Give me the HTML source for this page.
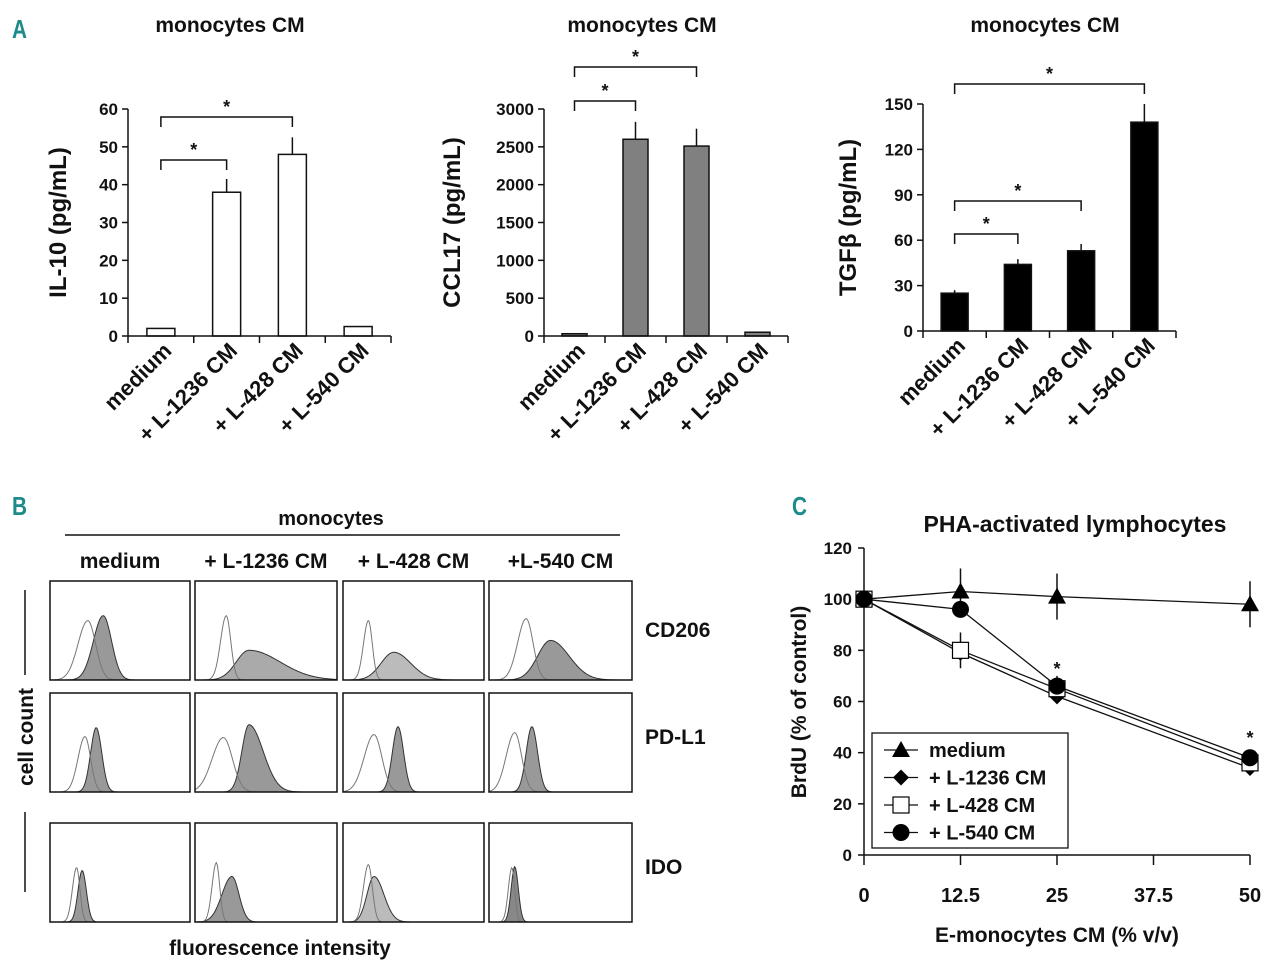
<!DOCTYPE html>
<html><head><meta charset="utf-8"><style>
body{margin:0;background:#fff;}
svg text{font-family:"Liberation Sans",sans-serif;font-weight:bold;fill:#111;}
</style></head><body>
<svg id="fig" width="1280" height="968" viewBox="0 0 1280 968" xmlns="http://www.w3.org/2000/svg">
<g id="root"></g>
</svg>
<script>
// ---- Panel A data ----
const catsA = ["medium","+ L-1236 CM","+ L-428 CM","+ L-540 CM"];
const il10Vals = [2, 38, 48, 2.5];
const il10Err = [0, 3.5, 4.5, 0];
const il10Ticks = [0,10,20,30,40,50,60];
const ccl17Vals = [30, 2600, 2510, 50];
const ccl17Err = [0, 230, 230, 0];
const ccl17Ticks = [0,500,1000,1500,2000,2500,3000];
const tgfVals = [25, 44, 53, 138];
const tgfErr = [2, 3.5, 4.5, 12];
const tgfTicks = [0,30,60,90,120,150];
// ---- Panel C data ----
const xC = [0, 12.5, 25, 50];
const xTicksC = [0, 12.5, 25, 37.5, 50];
const yTicksC = [0,20,40,60,80,100,120];
const medVals = [100, 103, 101, 98];
const medErr = [0, 9, 9, 9];
const l1236Vals = [100, 79, 62, 34];
const l428Vals = [100, 80, 65, 36];
const l428Err = [0, 7, 5, 3];
const l540Vals = [100, 96, 66, 38];

const NS="http://www.w3.org/2000/svg";
const root=document.getElementById('root');
function el(tag,attrs,parent,text){const e=document.createElementNS(NS,tag);for(const k in attrs)e.setAttribute(k,attrs[k]);if(text!==undefined)e.textContent=text;(parent||root).appendChild(e);return e;}

function barChart(o){
  const g=el('g',{});
  
  
  const y=v=>o.y0-(v/o.max)*(o.y0-o.yTop);
  const n=o.vals.length, step=(o.xEnd-o.ax)/n;
  const cx=i=>o.ax+step*(i+0.5);
  const t=el('text',{x:o.titleX,y:o.titleY,'text-anchor':'middle','font-size':21},g,'monocytes CM');
  
  o.vals.forEach((v,i)=>{
    if(o.err[i]>0){const e=el('line',{x1:cx(i),x2:cx(i),y1:y(v),y2:y(v+o.err[i]),stroke:'#111','stroke-width':1.5},g);
      }
    const r=el('rect',{x:cx(i)-o.bw/2,y:y(v),width:o.bw,height:o.y0-y(v),fill:o.fill,stroke:'#111','stroke-width':1.5},g);
    
  });
  const ya=el('line',{x1:o.ax,x2:o.ax,y1:o.yTop,y2:o.y0,stroke:'#111','stroke-width':1.5},g);
  
  o.ticks.forEach(tv=>{
    el('line',{x1:o.ax-6,x2:o.ax,y1:y(tv),y2:y(tv),stroke:'#111','stroke-width':1.5},g);
    const tl=el('text',{x:o.ax-10,y:y(tv)+6,'text-anchor':'end','font-size':17},g,String(tv));
    
  });
  const xa=el('line',{x1:o.ax,x2:o.xEnd,y1:o.y0,y2:o.y0,stroke:'#111','stroke-width':1.5},g);
  
  for(let i=0;i<=n;i++)el('line',{x1:o.ax+step*i,x2:o.ax+step*i,y1:o.y0,y2:o.y0+7,stroke:'#111','stroke-width':1.5},g);
  catsA.forEach((c,i)=>{
    const ax=cx(i)+12, ay=o.y0+16;
    const tl=el('text',{x:ax,y:ay,'text-anchor':'end','font-size':22,transform:`rotate(-45 ${ax} ${ay})`},g,c);
    
  });
  const yl=el('text',{x:o.ylx,y:(o.y0+o.yTop)/2,'text-anchor':'middle','font-size':24,transform:`rotate(-90 ${o.ylx} ${(o.y0+o.yTop)/2})`},g,o.ylabel);
  
  o.brackets.forEach(b=>{
    const x1=cx(b[0]), x2=cx(b[1]);
    const bg=el('path',{d:`M${x1} ${b[2]+10}V${b[2]}H${x2}V${b[2]+10}`,fill:'none',stroke:'#111','stroke-width':1.5},g);
    
    const s=el('text',{x:(x1+x2)/2,y:b[2]-4,'text-anchor':'middle','font-size':18},g,'*');
    
  });
}
barChart({name:'il10-chart',vals:il10Vals,err:il10Err,ticks:il10Ticks,max:60,ax:128,xEnd:391,y0:336,yTop:109,bw:28,fill:'#fff',ylabel:'IL-10  (pg/mL)',ylx:66,titleX:230,titleY:32,brackets:[[0,1,160],[0,2,117]]});
barChart({name:'ccl17-chart',vals:ccl17Vals,err:ccl17Err,ticks:ccl17Ticks,max:3000,ax:544,xEnd:788,y0:336,yTop:109,bw:25,fill:'#808080',ylabel:'CCL17 (pg/mL)',ylx:460,titleX:642,titleY:32,brackets:[[0,1,101],[0,2,67]]});
barChart({name:'tgfb-chart',vals:tgfVals,err:tgfErr,ticks:tgfTicks,max:150,ax:923,xEnd:1176,y0:331,yTop:104,bw:27,fill:'#000',ylabel:'TGFβ  (pg/mL)',ylx:856,titleX:1045,titleY:32,brackets:[[0,1,234],[0,2,201],[0,3,84]]});

[['A',12,38],['B',12,515],['C',792,515]].forEach(p=>{
  const t=el('text',{x:p[1],y:p[2],'font-size':26,'font-family':'"DejaVu Sans Condensed","Liberation Sans Narrow",sans-serif',style:'fill:#1e8a8a',transform:`scale(0.8 1)`,'transform-origin':`${p[1]} ${p[2]}`},root,p[0]);
  
});

// ---- Panel B ----
const gB=el('g',{});

let tt=el('text',{x:331,y:525,'text-anchor':'middle','font-size':20},gB,'monocytes');

el('line',{x1:65,x2:620,y1:535,y2:535,stroke:'#111','stroke-width':1.5},gB);
const colX=[[50,190],[195,337],[343,484],[489,632]];
const colNames=['medium','+ L-1236 CM','+ L-428 CM','+L-540 CM'];
colNames.forEach((c,i)=>{const t=el('text',{x:(colX[i][0]+colX[i][1])/2,y:568,'text-anchor':'middle','font-size':21},gB,c);
  });
const rowY=[[581,680],[693,792],[823,922]];
['CD206','PD-L1','IDO'].forEach((r,i)=>{const t=el('text',{x:645,y:[637,744,874][i],'font-size':21},gB,r);
  });
let cc=el('text',{x:33,y:737,'text-anchor':'middle','font-size':21,transform:'rotate(-90 33 737)'},gB,'cell count');

el('line',{x1:25,x2:25,y1:590,y2:675,stroke:'#111','stroke-width':1.5},gB);
el('line',{x1:25,x2:25,y1:812,y2:892,stroke:'#111','stroke-width':1.5},gB);
let fi=el('text',{x:280,y:955,'text-anchor':'middle','font-size':21},gB,'fluorescence intensity');

const histParams=[
 [[0.27,0.07,0.6,0.38,0.07,0.06,0.65,'#999'],[0.22,0.04,0.65,0.38,0.09,0.22,0.3,'#aaa'],[0.18,0.035,0.6,0.36,0.09,0.12,0.28,'#bbb'],[0.26,0.06,0.62,0.43,0.09,0.13,0.4,'#999']],
 [[0.25,0.05,0.56,0.33,0.04,0.04,0.65,'#999'],[0.2,0.08,0.55,0.38,0.05,0.1,0.68,'#999'],[0.22,0.07,0.58,0.39,0.04,0.04,0.66,'#999'],[0.18,0.06,0.6,0.3,0.04,0.04,0.66,'#999']],
 [[0.19,0.03,0.55,0.23,0.03,0.03,0.52,'#999'],[0.15,0.03,0.6,0.26,0.07,0.05,0.46,'#999'],[0.18,0.035,0.58,0.22,0.05,0.07,0.46,'#bbb'],[0.16,0.025,0.55,0.18,0.025,0.025,0.56,'#888']]
];
function gauss(x,m,wl,wr){const w=x<m?wl:wr;return Math.exp(-((x-m)*(x-m))/(2*w*w));}
rowY.forEach((ry,r)=>{colX.forEach((cx,c)=>{
  const p=histParams[r][c];const x0=cx[0],x1=cx[1],y0=ry[0],y1=ry[1],W=x1-x0,H=y1-y0;
  const cell=el('g',{},gB);
  
  let fd=`M${x0} ${y1}`,od=`M${x0} ${y1}`;
  for(let k=0;k<=140;k++){const f=k/140;
    const fy=y1-H*p[6]*gauss(f,p[3],p[4],p[5]);fd+=`L${x0+f*W} ${fy}`;
    const oy=y1-H*p[2]*gauss(f,p[0],p[1],p[1]*0.8);od+=`L${x0+f*W} ${oy}`;}
  fd+=`L${x1} ${y1}Z`;
  el('path',{d:fd,fill:p[7],stroke:'#333','stroke-width':1},cell);
  el('path',{d:od,fill:'none',stroke:'#777','stroke-width':1},cell);
  el('rect',{x:x0,y:y0,width:W,height:H,fill:'none',stroke:'#111','stroke-width':1.5},cell);
});});

// ---- Panel C ----
const gC=el('g',{});

const cx0=864,cx1=1250,cy0=855,cy1=548;
const X=v=>cx0+(v/50)*(cx1-cx0), Y=v=>cy0-(v/120)*(cy0-cy1);
let ct=el('text',{x:1075,y:532,'text-anchor':'middle','font-size':23},gC,'PHA-activated lymphocytes');

el('line',{x1:cx0,x2:cx0,y1:cy1,y2:cy0,stroke:'#111','stroke-width':1.5},gC);
el('line',{x1:cx0,x2:cx1,y1:cy0,y2:cy0,stroke:'#111','stroke-width':1.5},gC);
yTicksC.forEach(v=>{el('line',{x1:cx0-6,x2:cx0,y1:Y(v),y2:Y(v),stroke:'#111','stroke-width':1.5},gC);
  const t=el('text',{x:cx0-12,y:Y(v)+6,'text-anchor':'end','font-size':17},gC,String(v));
  });
xTicksC.forEach(v=>{el('line',{x1:X(v),x2:X(v),y1:cy0,y2:cy0+10,stroke:'#111','stroke-width':1.5},gC);
  const t=el('text',{x:X(v),y:902,'text-anchor':'middle','font-size':20},gC,String(v));
  });
let xt=el('text',{x:1057,y:942,'text-anchor':'middle','font-size':21},gC,'E-monocytes CM (% v/v)');

let yt=el('text',{x:806,y:702,'text-anchor':'middle','font-size':21,transform:'rotate(-90 806 702)'},gC,'BrdU (% of control)');

function marker(kind,x,y,parent){
  if(kind==='tri')return el('path',{d:`M${x} ${y-9}L${x+9} ${y+7}L${x-9} ${y+7}Z`,fill:'#000'},parent);
  if(kind==='dia')return el('path',{d:`M${x} ${y-8}L${x+8} ${y}L${x} ${y+8}L${x-8} ${y}Z`,fill:'#000'},parent);
  if(kind==='sq')return el('rect',{x:x-8,y:y-8,width:16,height:16,fill:'#fff',stroke:'#000','stroke-width':1.2},parent);
  return el('circle',{cx:x,cy:y,r:8.5,fill:'#000'},parent);
}
const seriesC=[['medium',medVals,medErr,'tri'],['l1236',l1236Vals,null,'dia'],['l428',l428Vals,l428Err,'sq'],['l540',l540Vals,null,'circ']];
seriesC.forEach(s=>{
  const sg=el('g',{},gC);
  
  if(s[2])s[1].forEach((v,i)=>{if(s[2][i]>0)el('line',{x1:X(xC[i]),x2:X(xC[i]),y1:Y(v-s[2][i]),y2:Y(v+s[2][i]),stroke:'#111','stroke-width':1.5},sg);});
  el('polyline',{points:s[1].map((v,i)=>X(xC[i])+','+Y(v)).join(' '),fill:'none',stroke:'#111','stroke-width':1.3},sg);
  s[1].forEach((v,i)=>{const m=marker(s[3],X(xC[i]),Y(v),sg);
    });
});
[[25,72],[50,45]].forEach(a=>{const t=el('text',{x:X(a[0]),y:Y(a[1])+4,'text-anchor':'middle','font-size':18},gC,'*');
  });
const lg=el('g',{},gC);

el('rect',{x:872,y:733,width:196,height:115,fill:'#fff',stroke:'#111','stroke-width':1.3},lg);
[['medium','tri'],['+ L-1236 CM','dia'],['+ L-428 CM','sq'],['+ L-540 CM','circ']].forEach((e,i)=>{
  const yy=750+i*27.5;
  const eg=el('g',{},lg);
  
  el('line',{x1:884,x2:918,y1:yy,y2:yy,stroke:'#111','stroke-width':1.3},eg);
  marker(e[1],901,yy,eg);
  el('text',{x:929,y:yy+7,'font-size':20},eg,e[0]);
});
</script>
</body></html>
